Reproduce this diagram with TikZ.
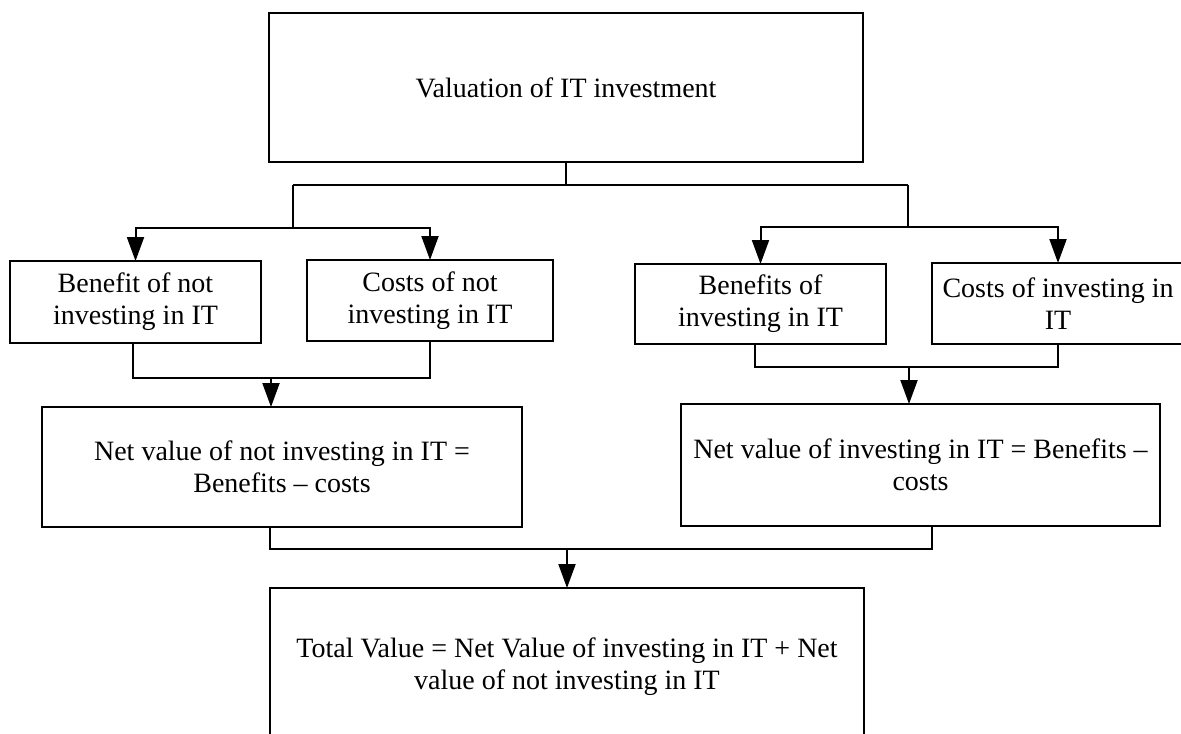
\documentclass[tikz,border=0pt]{standalone}
\usepackage{fontspec}
\setmainfont{Liberation Serif}
\usetikzlibrary{arrows.meta}
\begin{document}
\begin{tikzpicture}[x=0.5pt,y=-0.5pt,
  box/.style={draw,line width=1pt,rectangle,inner sep=0pt,outer sep=0pt,align=center,
    font=\fontsize{14pt}{16pt}\selectfont},
  conn/.style={line width=1pt},
  arr/.style={line width=1pt,-{Triangle[length=12pt,width=8.5pt]}}]
\useasboundingbox (0,0) rectangle (1181,733);
\clip (0,0) rectangle (1181,733);
\fill[white] (0,0) rectangle (1181,733);
% boxes
\node[box,minimum width=297pt,minimum height=74.5pt] (top) at (566,87.5) {Valuation of IT investment};
\node[box,minimum width=125.5pt,minimum height=41pt] (B1) at (135.5,302) {Benefit of not\\investing in IT};
\node[box,minimum width=123pt,minimum height=40.5pt] (C1) at (430,300.5) {Costs of not\\investing in IT};
\node[box,minimum width=125.5pt,minimum height=40pt] (B2) at (760.5,304) {Benefits of\\investing in IT};
\node[box,minimum width=126pt,minimum height=40.5pt] (C2) at (1058,303.5) {Costs of investing in\\IT};
\node[box,minimum width=240pt,minimum height=60pt] (N1) at (282,467) {Net value of not investing in IT =\\Benefits – costs};
\node[box,minimum width=239.5pt,minimum height=61pt] (N2) at (920.5,465) {Net value of investing in IT = Benefits –\\costs};
\node[box,minimum width=297pt,minimum height=79pt] (T) at (567,667) {Total Value = Net Value of investing in IT + Net\\value of not investing in IT};
% junction coordinates
\coordinate (jl) at (293,185);
\coordinate (jr) at (908,185);
\coordinate (hl) at (293,228);
\coordinate (hr) at (908,227);
\coordinate (ml) at (271,378);
\coordinate (mr) at (909,367);
\coordinate (mb) at (567,549);
% top split
\draw[conn] (top.south) -- (top.south |- jl);
\draw[conn] (jl) -- (jr);
\draw[conn] (jl) -- (hl);
\draw[conn] (jr) -- (hr);
\draw[arr] (hl) -| (B1.north);
\draw[arr] (hl) -| (C1.north);
\draw[arr] (hr) -| (B2.north);
\draw[arr] (hr) -| (C2.north);
% merge left
\draw[conn] ([xshift=-1.25pt]B1.south) |- (ml) -| (C1.south);
\draw[arr] (ml) -- (ml |- N1.north);
% merge right
\draw[conn] ([xshift=-2.75pt]B2.south) |- (mr) -| (C2.south);
\draw[arr] (mr) -- (mr |- N2.north);
% merge bottom
\draw[conn] ([xshift=-6pt]N1.south) |- (mb) -| ([xshift=5.75pt]N2.south);
\draw[arr] (mb) -- (T.north);
\end{tikzpicture}
\end{document}
